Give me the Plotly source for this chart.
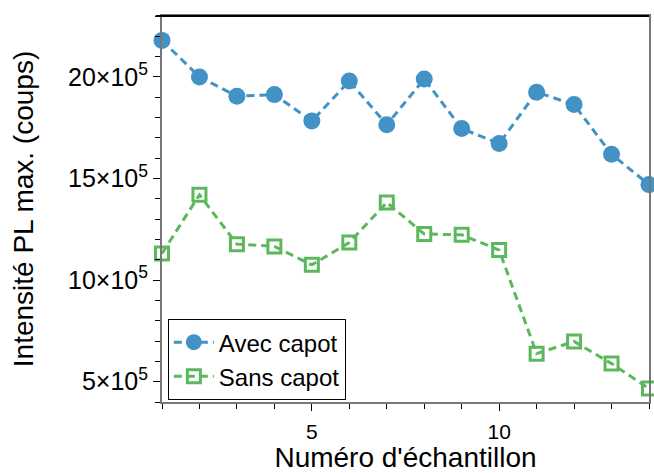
import plotly.graph_objects as go

samples = list(range(1, 15))
avec_capot = [21.8e5, 20.0e5, 19.05e5, 19.13e5, 17.83e5, 19.8e5, 17.65e5, 19.9e5,
              17.46e5, 16.72e5, 19.25e5, 18.64e5, 16.19e5, 14.7e5]
sans_capot = [11.31e5, 14.2e5, 11.77e5, 11.66e5, 10.75e5, 11.85e5, 13.82e5, 12.27e5,
              12.23e5, 11.48e5, 6.38e5, 6.98e5, 5.89e5, 4.66e5]
y_tickvals = [5e5, 10e5, 15e5, 20e5]
y_ticktext = ["5×10<sup>5</sup>", "10×10<sup>5</sup>", "15×10<sup>5</sup>", "20×10<sup>5</sup>"]
x_tickvals = [5, 10]

BLUE = "#4292c6"
GREEN = "#5cb85c"
FONT = "Liberation Sans, Arial, Helvetica, sans-serif"

fig = go.Figure()
fig.add_trace(go.Scatter(
    x=samples, y=avec_capot, name="Avec capot", mode="lines+markers",
    line=dict(color=BLUE, width=3, dash="8px,5px"),
    marker=dict(symbol="circle", size=17, color=BLUE),
    cliponaxis=False,
))
fig.add_trace(go.Scatter(
    x=samples, y=sans_capot, name="Sans capot", mode="lines+markers",
    line=dict(color=GREEN, width=3, dash="8px,5px"),
    marker=dict(symbol="square-open", size=13, color=GREEN, line=dict(width=3, color=GREEN)),
    cliponaxis=False,
))

fig.update_layout(
    width=654, height=473,
    margin=dict(l=162, r=3, t=16, b=71),
    paper_bgcolor="white", plot_bgcolor="white",
    font=dict(family=FONT, size=21, color="black"),
    showlegend=True,
    legend=dict(
        x=0.012, y=0.005, xanchor="left", yanchor="bottom",
        bordercolor="black", borderwidth=1, bgcolor="white",
        font=dict(size=24, family=FONT), tracegroupgap=0,
        itemwidth=40,
    ),
    xaxis=dict(
        range=[1, 14], tickvals=x_tickvals, ticks="outside", ticklen=7, tickwidth=1,
        tickcolor="black", showline=True, linecolor="#777", linewidth=2, mirror=True,
        showgrid=False, zeroline=False, tickfont=dict(size=21), ticklabelstandoff=3,
        minor=dict(dtick=1, tick0=0, ticks="outside", ticklen=5, tickcolor="black", showgrid=False),
        title=dict(text="Numéro d'échantillon", font=dict(size=28), standoff=6),
    ),
    yaxis=dict(
        range=[4e5, 23e5], tickvals=y_tickvals, ticktext=y_ticktext, ticks="outside",
        ticklen=7, tickwidth=1, tickcolor="black", showline=True, linecolor="#777",
        linewidth=2, mirror=True, showgrid=False, zeroline=False, tickfont=dict(size=25),
        minor=dict(dtick=1e5, tick0=0, ticks="outside", ticklen=5, tickcolor="black", showgrid=False),
        title=dict(text="Intensité PL max. (coups)", font=dict(size=28), standoff=26),
    ),
)
fig.add_shape(type="line", xref="paper", yref="paper", x0=-0.013, x1=1, y0=1, y1=1,
              line=dict(color="black", width=2))

fig.write_html("out.html", config={"displayModeBar": False},
               post_script="document.body.style.margin='0';document.body.style.overflow='hidden';")
